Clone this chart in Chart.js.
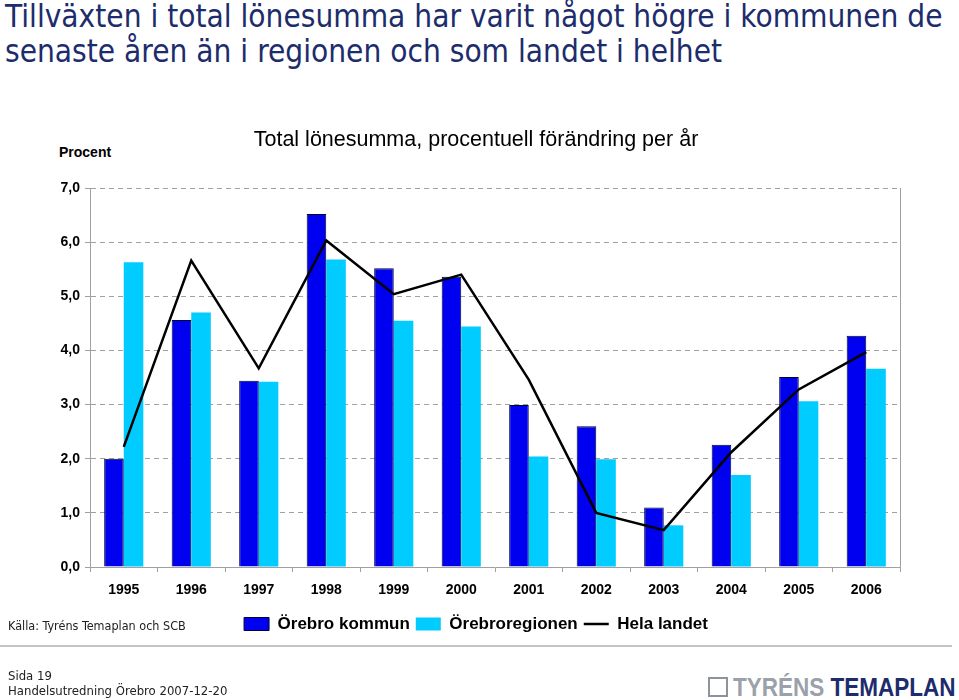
<!DOCTYPE html>
<html lang="sv">
<head>
<meta charset="UTF-8">
<script src="https://cdn.jsdelivr.net/npm/chart.js"></script>
<title>Total lönesumma</title>
<style>
    body {
        margin: 0;
        width: 959px;
        height: 700px;
        position: relative;
        overflow: hidden;
        background: #fff;
        font-family: "DejaVu Sans Condensed", "DejaVu Sans", sans-serif;
        font-stretch: condensed;
    }
    .heading {
        position: absolute;
        left: 5px;
        top: -1px;
        font-size: 31.3px;
        line-height: 35px;
        color: #1c2c6c;
        white-space: nowrap;
    }
    .procent {
        position: absolute;
        left: 59px;
        top: 144px;
        font: bold 14px Arial, "Liberation Sans", sans-serif;
    }
    #wrap {
        position: absolute;
        left: 0;
        top: 120px;
        width: 959px;
        height: 527px;
    }
    .source {
        position: absolute;
        left: 8px;
        top: 618px;
        font-size: 12.5px;
        color: #222;
    }
    .rule {
        position: absolute;
        left: 0;
        top: 645px;
        width: 952px;
        height: 2px;
        background: #c4c4c4;
    }
    .footer {
        position: absolute;
        left: 8px;
        top: 668px;
        font-size: 13px;
        line-height: 15px;
        color: #222;
    }
    .logo {
        position: absolute;
        left: 708px;
        top: 674px;
        white-space: nowrap;
        font: bold 25px Arial, "Liberation Sans", sans-serif;
        line-height: 26px;
    }
    .logo .icon {
        display: inline-block;
        width: 16px;
        height: 16px;
        border: 2px solid #8c939c;
        vertical-align: -1px;
    }
    .logo .words {
        position: absolute;
        left: 25px;
        top: 0;
        transform: scaleX(0.9);
        transform-origin: left top;
    }
    .logo .grey { color: #9aa1aa; }
    .logo .navy { color: #1c2c6c; }
</style>
</head>
<body>

<div class="heading">Tillväxten i total lönesumma har varit något högre i kommunen de<br>senaste åren än i regionen och som landet i helhet</div>
<div class="procent">Procent</div>
<div id="wrap"><canvas id="chart"></canvas></div>
<div class="source">Källa: Tyréns Temaplan och SCB</div>
<div class="rule"></div>
<div class="footer">Sida 19<br>Handelsutredning Örebro 2007-12-20</div>
<div class="logo"><span class="icon"></span><span class="words"><span class="grey">TYRÉNS</span> <span class="navy">TEMAPLAN</span></span></div>

<script>
    const years = ['1995', '1996', '1997', '1998', '1999', '2000', '2001', '2002', '2003', '2004', '2005', '2006'];
    const kommun = [2.0, 4.56, 3.44, 6.52, 5.52, 5.36, 2.99, 2.60, 1.10, 2.26, 3.51, 4.27];
    const regionen = [5.63, 4.70, 3.42, 5.68, 4.55, 4.44, 2.04, 1.99, 0.77, 1.70, 3.06, 3.66];
    const landet = [2.22, 5.66, 3.67, 6.03, 5.04, 5.40, 3.46, 1.00, 0.68, 2.12, 3.28, 3.97];
    const yTicks = [0, 1, 2, 3, 4, 5, 6, 7];

    const axisGrey = '#a0a0a0';
    const tickFont = { family: 'Arial, "Liberation Sans", sans-serif', size: 14, weight: 'bold' };

    const ctx = document.getElementById('chart').getContext('2d');
    const chart = new Chart(ctx, {
        type: 'bar',
        data: {
            labels: years,
            datasets: [
                {
                    label: 'Örebro kommun',
                    data: kommun,
                    backgroundColor: '#0000f0',
                    borderColor: '#000033',
                    borderWidth: 1,
                    pointStyle: 'rect',
                    order: 1
                },
                {
                    label: 'Örebroregionen',
                    data: regionen,
                    backgroundColor: '#00ccff',
                    borderColor: '#00ccff',
                    borderWidth: 0,
                    pointStyle: 'rect',
                    order: 1
                },
                {
                    type: 'line',
                    label: 'Hela landet',
                    data: landet,
                    borderColor: '#000000',
                    backgroundColor: '#000000',
                    borderWidth: 2.5,
                    pointRadius: 0,
                    pointStyle: 'line',
                    tension: 0,
                    order: 0
                }
            ]
        },
        options: {
            responsive: true,
            maintainAspectRatio: false,
            animation: false,
            // right padding + right axis width keep the title/legend centred on 0..952
            layout: { padding: { left: 0, right: 7, top: 0, bottom: 4.5 } },
            datasets: {
                bar: { categoryPercentage: 0.58, barPercentage: 1.0 }
            },
            plugins: {
                tooltip: { enabled: false },
                title: {
                    display: true,
                    text: 'Total lönesumma, procentuell förändring per år',
                    color: '#000',
                    font: { family: 'Arial, "Liberation Sans", sans-serif', size: 21.5, weight: 'normal', lineHeight: 1.2 },
                    padding: { top: 7.1, bottom: 35.1 }
                },
                legend: {
                    position: 'bottom',
                    labels: {
                        usePointStyle: true,
                        pointStyleWidth: 25,
                        boxHeight: 13,
                        padding: 6,
                        color: '#000',
                        font: { family: 'Arial, "Liberation Sans", sans-serif', size: 17, weight: 'bold' },
                        sort: (a, b) => a.datasetIndex - b.datasetIndex
                    }
                }
            },
            scales: {
                x: {
                    grid: {
                        drawOnChartArea: false,
                        drawTicks: true,
                        tickLength: 5,
                        color: axisGrey
                    },
                    border: { color: axisGrey, width: 1 },
                    ticks: { color: '#000', font: tickFont, padding: 10, maxRotation: 0 },
                    afterFit: (scale) => { scale.height = 42.5; }
                },
                y: {
                    min: 0,
                    max: 7,
                    afterBuildTicks: (scale) => { scale.ticks = yTicks.map(v => ({ value: v })); },
                    grid: {
                        color: axisGrey,
                        tickLength: 5,
                        drawTicks: true
                    },
                    border: { color: axisGrey, width: 1, dash: [5, 4] },
                    ticks: {
                        color: '#000',
                        font: tickFont,
                        padding: 5,
                        callback: (v) => Number(v).toFixed(1).replace('.', ',')
                    },
                    afterFit: (scale) => { scale.width = 90; }
                },
                yRight: {
                    position: 'right',
                    min: 0,
                    max: 7,
                    grid: { drawOnChartArea: false, drawTicks: false },
                    border: { color: axisGrey, width: 1 },
                    ticks: { display: false },
                    afterFit: (scale) => { scale.width = 52; }
                }
            }
        }
    });
</script>

</body>
</html>
